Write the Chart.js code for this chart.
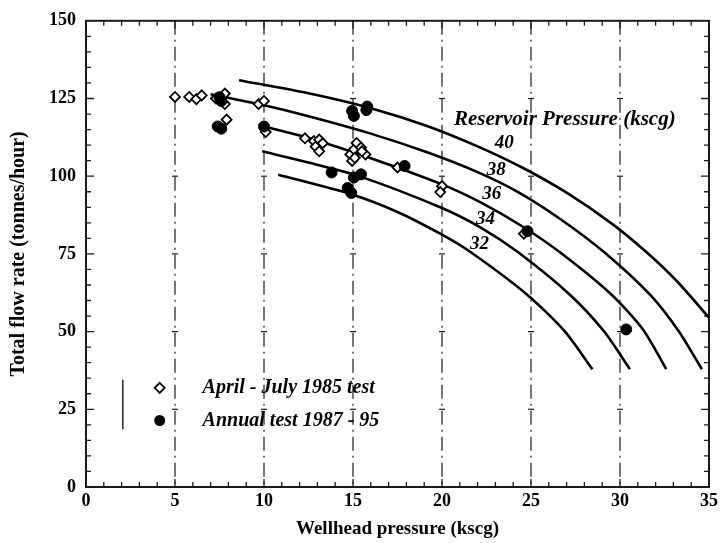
<!DOCTYPE html>
<html>
<head>
<meta charset="utf-8">
<script src="https://cdn.jsdelivr.net/npm/chart.js@4.4.1/dist/chart.umd.min.js"></script>
<style>
html,body{margin:0;padding:0;background:#fff}
#wrap{width:722px;height:543px}
</style>
</head>
<body>
<div id="wrap"><canvas id="flowChart" width="722" height="543"></canvas></div>
<script>
// axis ticks
const xTicks = [0, 5, 10, 15, 20, 25, 30, 35]
const yTicks = [0, 25, 50, 75, 100, 125, 150]

// April - July 1985 test (open diamonds)
const test1985X = [5.0, 5.8, 6.2, 6.5, 7.3, 7.8, 7.8, 7.9, 9.7, 10.0, 10.1, 12.3, 12.8, 13.1, 12.9, 13.1, 13.3,
  14.85, 15.05, 15.2, 15.45, 15.7, 14.95, 15.1, 15.5, 17.5, 20.0, 19.9, 24.6]
const test1985Y = [125.5, 125.5, 124.8, 126.0, 125.0, 126.6, 123.2, 118.2, 123.2, 124.2, 114.2, 112.2, 111.3, 111.8, 109.5, 108.0, 110.6,
  107.0, 108.6, 110.7, 109.2, 107.0, 104.9, 105.9, 108.0, 102.8, 96.8, 94.9, 81.5]

// Annual test 1987 - 95 (filled circles)
const annualX = [7.5, 7.6, 7.4, 7.6, 10.0, 14.95, 15.05, 15.8, 15.75, 13.8, 15.05, 15.45, 14.7, 14.9, 17.9, 24.8, 30.35]
const annualY = [125.4, 124.2, 116.0, 115.3, 116.0, 121.0, 119.4, 122.4, 121.3, 101.2, 99.6, 100.6, 96.2, 94.6, 103.3, 82.3, 50.7]

// reservoir pressure curves (kscg)
const curve40X = [8.6, 12.5, 16.0, 19.2, 22.0, 24.5, 27.0, 29.5, 31.4, 33.2, 35.0]
const curve40Y = [130.9, 126.7, 121.9, 116.1, 109.6, 102.8, 94.7, 84.9, 76.0, 66.2, 54.5]
const curve38X = [7.0, 9.7, 12.5, 16.0, 19.2, 22.0, 24.3, 26.7, 29.1, 31.7, 33.3, 34.6]
const curve38Y = [126.4, 123.2, 119.3, 113.7, 107.6, 101.3, 94.8, 86.0, 75.6, 61.8, 50.1, 37.9]
const curve36X = [9.8, 12.5, 16.0, 19.9, 22.3, 24.5, 26.7, 29.5, 31.3, 32.6]
const curve36Y = [116.3, 112.3, 105.8, 97.6, 91.2, 83.9, 75.2, 62.0, 50.6, 37.9]
const curve34X = [9.9, 12.5, 15.3, 19.9, 22.2, 24.26, 27.2, 29.1, 30.56]
const curve34Y = [108.0, 104.4, 100.1, 90.0, 83.4, 75.6, 61.8, 50.1, 37.9]
const curve32X = [10.8, 14.9, 17.5, 19.9, 21.6, 24.8, 26.9, 28.45]
const curve32Y = [100.5, 94.2, 88.5, 81.5, 75.6, 61.8, 50.1, 37.9]

const curveLabels = ['40', '38', '36', '34', '32']
const curveLabelX = [23.5, 23.05, 22.8, 22.45, 22.1]
const curveLabelY = [110.5, 102.0, 94.2, 86.1, 78.3]

const legendNames = ['April - July 1985 test', 'Annual test 1987 - 95']

const serif = '"Liberation Serif", "DejaVu Serif", serif'

function pairs(xs, ys){
  return xs.map((v, i) => ({x: v, y: ys[i]}))
}

function curveSet(xs, ys){
  return {
    data: pairs(xs, ys),
    showLine: true,
    borderColor: '#000',
    borderWidth: 2.6,
    pointRadius: 0,
    tension: 0.25,
    order: 3
  }
}

// frame, dash-dot grid, crosses and minor ticks
const framePlugin = {
  id: 'frame',
  beforeDatasetsDraw(chart){
    const {ctx, chartArea: a} = chart
    const x = chart.scales.x, y = chart.scales.y
    ctx.save()
    ctx.strokeStyle = '#1a1a1a'
    ctx.lineWidth = 1.2
    ctx.setLineDash([14, 5, 2, 5])
    xTicks.slice(1, -1).forEach(v => {
      const px = x.getPixelForValue(v)
      ctx.beginPath(); ctx.moveTo(px, a.top); ctx.lineTo(px, a.bottom); ctx.stroke()
    })
    ctx.setLineDash([])
    xTicks.slice(1, -1).forEach(v => {
      yTicks.slice(1, -1).forEach(w => {
        const px = x.getPixelForValue(v), py = y.getPixelForValue(w)
        ctx.beginPath(); ctx.moveTo(px - 3, py); ctx.lineTo(px + 3, py); ctx.stroke()
      })
    })
    ctx.lineWidth = 1.3
    for(let v = 1; v < 35; v++){
      const px = x.getPixelForValue(v)
      const len = v % 5 === 0 ? 8 : 5
      ctx.beginPath()
      ctx.moveTo(px, a.bottom); ctx.lineTo(px, a.bottom - len)
      ctx.moveTo(px, a.top); ctx.lineTo(px, a.top + len)
      ctx.stroke()
    }
    for(let w = 5; w < 150; w += 5){
      const py = y.getPixelForValue(w)
      const len = w % 25 === 0 ? 8 : 5
      ctx.beginPath()
      ctx.moveTo(a.left, py); ctx.lineTo(a.left + len, py)
      ctx.moveTo(a.right, py); ctx.lineTo(a.right - len, py)
      ctx.stroke()
    }
    ctx.lineWidth = 2
    ctx.strokeRect(a.left, a.top, a.right - a.left, a.bottom - a.top)
    ctx.restore()
  }
}

// curve labels, heading and legend
const notesPlugin = {
  id: 'notes',
  afterDatasetsDraw(chart){
    const {ctx} = chart
    const x = chart.scales.x, y = chart.scales.y
    ctx.save()
    ctx.fillStyle = '#000'
    ctx.textBaseline = 'middle'
    ctx.textAlign = 'center'
    ctx.font = 'italic bold 19px ' + serif
    curveLabels.forEach((t, i) => {
      ctx.fillText(t, x.getPixelForValue(curveLabelX[i]), y.getPixelForValue(curveLabelY[i]))
    })
    ctx.font = 'italic bold 21px ' + serif
    ctx.fillText('Reservoir Pressure (kscg)', x.getPixelForValue(26.9), y.getPixelForValue(118.3))

    // legend
    const sx = x.getPixelForValue(4.14)
    const tx = x.getPixelForValue(6.55)
    const y1 = y.getPixelForValue(31.9), y2 = y.getPixelForValue(21.4)
    ctx.strokeStyle = '#000'
    ctx.lineWidth = 1.3
    ctx.beginPath()
    ctx.moveTo(x.getPixelForValue(2.07), y.getPixelForValue(34.5))
    ctx.lineTo(x.getPixelForValue(2.07), y.getPixelForValue(18.6))
    ctx.stroke()
    ctx.lineWidth = 1.8
    ctx.fillStyle = '#fff'
    ctx.beginPath()
    ctx.moveTo(sx, y1 - 5); ctx.lineTo(sx + 5, y1); ctx.lineTo(sx, y1 + 5); ctx.lineTo(sx - 5, y1); ctx.closePath()
    ctx.fill(); ctx.stroke()
    ctx.fillStyle = '#000'
    ctx.beginPath(); ctx.arc(sx, y2, 5.5, 0, Math.PI * 2); ctx.fill()
    ctx.textAlign = 'left'
    ctx.font = 'italic bold 20px ' + serif
    ctx.fillText(legendNames[0], tx, y1)
    ctx.fillText(legendNames[1], tx, y2)
    ctx.restore()
  }
}

const ctx = document.getElementById('flowChart')

new Chart(ctx, {
  type: 'scatter',
  data: {
    datasets: [
      {
        label: legendNames[0],
        data: pairs(test1985X, test1985Y),
        pointStyle: 'rectRot',
        pointRadius: 5,
        pointBackgroundColor: '#fff',
        pointBorderColor: '#000',
        pointBorderWidth: 1.8,
        order: 1
      },
      {
        label: legendNames[1],
        data: pairs(annualX, annualY),
        pointStyle: 'circle',
        pointRadius: 5.5,
        pointBackgroundColor: '#000',
        pointBorderColor: '#000',
        pointBorderWidth: 1,
        order: 0
      },
      curveSet(curve40X, curve40Y),
      curveSet(curve38X, curve38Y),
      curveSet(curve36X, curve36Y),
      curveSet(curve34X, curve34Y),
      curveSet(curve32X, curve32Y)
    ]
  },
  options: {
    responsive: false,
    animation: false,
    maintainAspectRatio: false,
    layout: {padding: {top: 16, right: 10, left: 0, bottom: 0}},
    plugins: {
      legend: {display: false},
      tooltip: {enabled: false}
    },
    scales: {
      x: {
        type: 'linear',
        min: 0,
        max: 35,
        afterBuildTicks: s => { s.ticks = xTicks.map(v => ({value: v})) },
        afterFit: s => { s.height = 56 },
        ticks: {
          color: '#000',
          padding: 4,
          font: {family: serif, size: 18, weight: 'bold'}
        },
        grid: {display: false, drawTicks: false},
        border: {display: false},
        title: {
          display: true,
          text: 'Wellhead pressure (kscg)',
          color: '#000',
          padding: {top: 0, bottom: 3},
          font: {family: serif, size: 19, weight: 'bold'}
        }
      },
      y: {
        type: 'linear',
        min: 0,
        max: 150,
        afterBuildTicks: s => { s.ticks = yTicks.map(v => ({value: v})) },
        afterFit: s => { s.width = 86 },
        ticks: {
          color: '#000',
          padding: 10,
          font: {family: serif, size: 18, weight: 'bold'}
        },
        grid: {display: false, drawTicks: false},
        border: {display: false},
        title: {
          display: true,
          text: 'Total flow rate (tonnes/hour)',
          color: '#000',
          padding: {top: 7, bottom: 0},
          font: {family: serif, size: 20, weight: 'bold'}
        }
      }
    }
  },
  plugins: [framePlugin, notesPlugin]
})
</script>
</body>
</html>
